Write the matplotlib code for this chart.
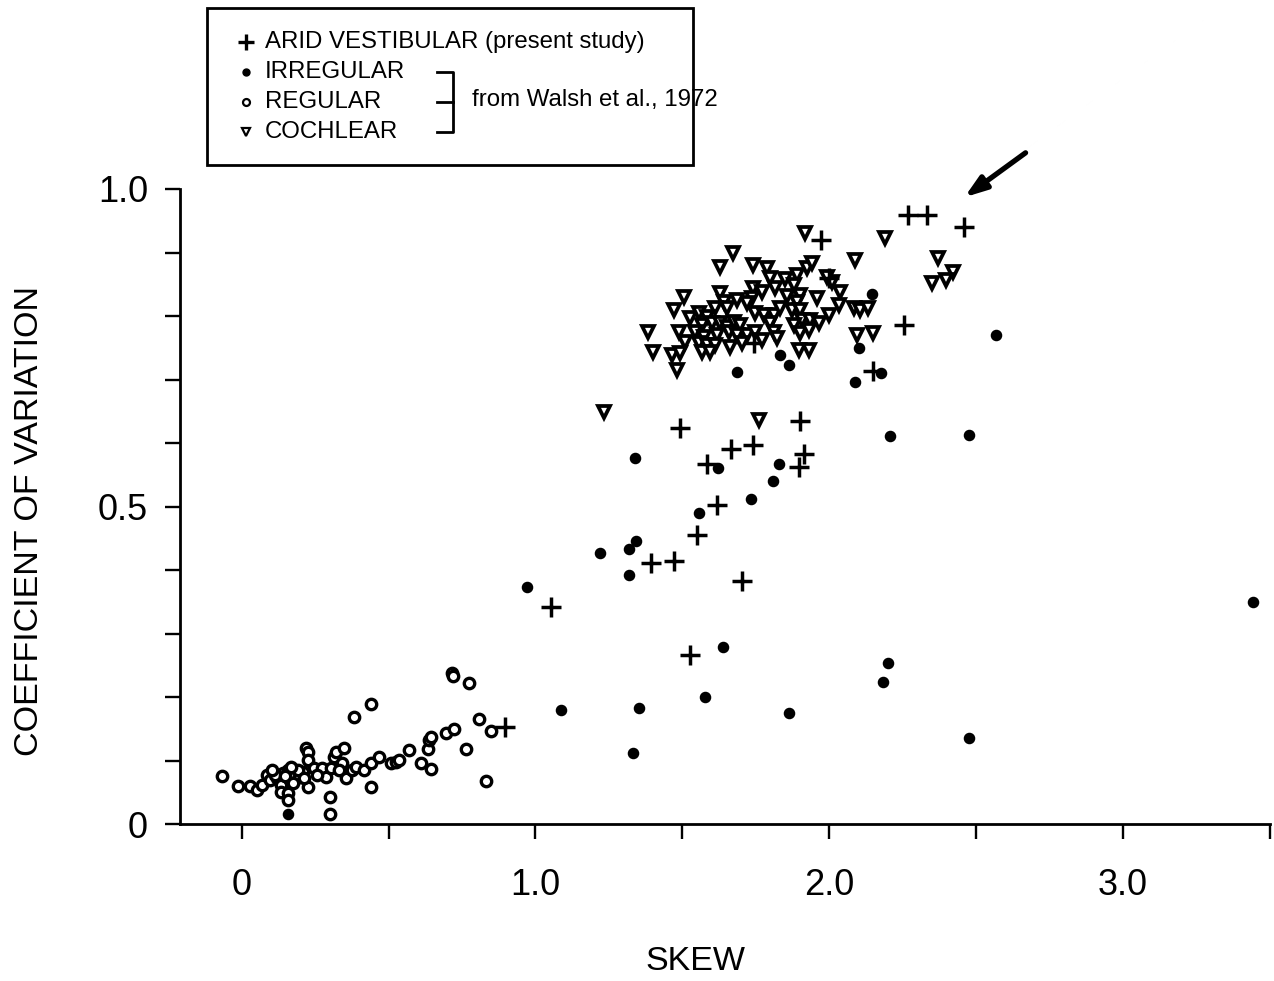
import matplotlib
matplotlib.use('Agg')
import matplotlib.pyplot as plt
from matplotlib.patches import Rectangle

plt.rcParams['font.family'] = ['Liberation Sans', 'DejaVu Sans']

# ── ARID VESTIBULAR (present study) ──
arid_skew = [0.897, 1.053, 1.527, 1.493, 1.703, 1.392, 1.473, 1.551, 1.619, 1.585,
             1.666, 1.740, 1.900, 1.913, 1.896, 1.971, 2.150, 2.255, 2.269, 2.333,
             2.459, 1.744, 1.998]
arid_cv = [0.153, 0.342, 0.266, 0.624, 0.383, 0.411, 0.414, 0.455, 0.502, 0.567,
           0.591, 0.597, 0.635, 0.583, 0.562, 0.920, 0.713, 0.786, 0.959, 0.959,
           0.940, 0.757, 0.860]

# ── IRREGULAR (Walsh et al., 1972) ──
irr_skew = [0.156, 0.972, 1.087, 1.219, 1.317, 1.341, 1.317, 1.338, 1.351, 1.331,
            1.558, 1.622, 1.578, 1.639, 1.734, 1.808, 1.829, 1.863, 2.184, 2.201,
            2.205, 2.475, 2.475, 2.567, 3.441, 2.089, 2.147, 2.100, 2.177, 1.686,
            1.863, 1.832]
irr_cv = [0.016, 0.373, 0.180, 0.427, 0.433, 0.446, 0.392, 0.576, 0.183, 0.112,
          0.490, 0.561, 0.200, 0.279, 0.512, 0.540, 0.567, 0.175, 0.224, 0.254,
          0.611, 0.613, 0.135, 0.770, 0.350, 0.696, 0.835, 0.750, 0.710, 0.712,
          0.723, 0.739]

# ── REGULAR (Walsh et al., 1972) ──
reg_skew = [-0.068, -0.014, 0.027, 0.051, 0.068, 0.085, 0.095, 0.119, 0.135, 0.139,
            0.156, 0.163, 0.135, 0.159, 0.156, 0.179, 0.196, 0.207, 0.224, 0.220,
            0.227, 0.224, 0.247, 0.274, 0.288, 0.305, 0.315, 0.322, 0.349, 0.301,
            0.301, 0.342, 0.356, 0.376, 0.389, 0.417, 0.440, 0.467, 0.440, 0.383,
            0.440, 0.508, 0.525, 0.535, 0.569, 0.610, 0.633, 0.637, 0.643, 0.643,
            0.694, 0.721, 0.715, 0.718, 0.772, 0.765, 0.809, 0.850, 0.830, 0.112,
            0.146, 0.173, 0.190, 0.213, 0.257, 0.332, 0.169, 0.102]
reg_cv = [0.076, 0.060, 0.060, 0.054, 0.061, 0.077, 0.069, 0.072, 0.061, 0.080,
          0.085, 0.069, 0.050, 0.049, 0.038, 0.074, 0.074, 0.082, 0.058, 0.120,
          0.113, 0.101, 0.088, 0.088, 0.074, 0.088, 0.106, 0.113, 0.120, 0.043,
          0.016, 0.096, 0.072, 0.085, 0.090, 0.085, 0.096, 0.106, 0.058, 0.169,
          0.189, 0.096, 0.098, 0.101, 0.117, 0.096, 0.118, 0.132, 0.137, 0.087,
          0.143, 0.150, 0.238, 0.233, 0.222, 0.118, 0.165, 0.146, 0.068, 0.077,
          0.076, 0.065, 0.085, 0.072, 0.077, 0.085, 0.090, 0.085]

# ── COCHLEAR (Walsh et al., 1972) ──
coch_skew = [1.673, 1.629, 1.741, 1.788, 1.798, 1.849, 1.890, 1.923, 1.940, 1.917,
             1.815, 1.879, 1.900, 1.890, 1.741, 1.737, 1.720, 1.629, 1.642, 1.653,
             1.612, 1.507, 1.473, 1.527, 1.558, 1.585, 1.568, 1.602, 1.629, 1.653,
             1.676, 1.697, 1.747, 1.778, 1.812, 1.832, 1.798, 1.873, 1.900, 1.907,
             1.934, 1.879, 1.382, 1.490, 1.544, 1.575, 1.619, 1.659, 1.686, 1.720,
             1.747, 1.771, 1.812, 1.822, 1.900, 1.930, 1.510, 1.558, 1.585, 1.612,
             1.663, 1.703, 1.568, 1.595, 1.399, 1.466, 1.493, 1.480, 1.896, 1.930,
             2.188, 2.086, 2.370, 2.421, 2.398, 2.350, 2.035, 2.008, 1.991, 2.083,
             2.103, 2.133, 2.093, 2.150, 1.998, 1.964, 1.957, 2.032, 1.233, 1.761,
             1.686, 1.771, 1.856]
coch_cv = [0.899, 0.877, 0.880, 0.876, 0.860, 0.858, 0.865, 0.876, 0.883, 0.931,
           0.844, 0.849, 0.833, 0.822, 0.844, 0.828, 0.820, 0.836, 0.822, 0.813,
           0.813, 0.830, 0.809, 0.797, 0.805, 0.798, 0.786, 0.789, 0.789, 0.783,
           0.791, 0.786, 0.805, 0.802, 0.802, 0.813, 0.789, 0.809, 0.809, 0.794,
           0.794, 0.786, 0.775, 0.775, 0.775, 0.767, 0.770, 0.775, 0.770, 0.770,
           0.775, 0.762, 0.775, 0.765, 0.773, 0.778, 0.759, 0.757, 0.754, 0.754,
           0.751, 0.757, 0.743, 0.743, 0.743, 0.739, 0.742, 0.715, 0.746, 0.746,
           0.923, 0.888, 0.891, 0.869, 0.857, 0.852, 0.838, 0.854, 0.861, 0.813,
           0.809, 0.813, 0.770, 0.773, 0.802, 0.789, 0.828, 0.817, 0.649, 0.636,
           0.825, 0.838, 0.831]

X_TICKS = [0, 1.0, 2.0, 3.0]
X_TICKLABELS = ['0', '1.0', '2.0', '3.0']
Y_TICKS = [0, 0.5, 1.0]
Y_TICKLABELS = ['0', '0.5', '1.0']

W, H = 1274, 981
fig = plt.figure(figsize=(W / 100, H / 100), dpi=100)
ax = fig.add_axes([180 / W, 157 / H, 1090 / W, 635 / H])

ax.plot(reg_skew, reg_cv, 'o', ms=7.5, mfc='white', mec='black', mew=2.4,
        clip_on=False, zorder=3)
ax.plot(coch_skew, coch_cv, 'v', ms=8.5, mfc='white', mec='black', mew=2.7,
        clip_on=False, zorder=3)
ax.plot(irr_skew, irr_cv, 'o', ms=7.3, color='black', clip_on=False, zorder=4)
ax.plot(arid_skew, arid_cv, '+', ms=14, color='black', mew=2.5,
        clip_on=False, zorder=5)

ax.set_xlim(-0.21, 3.5)
ax.set_ylim(0, 1.0)
for s in ['top', 'right']:
    ax.spines[s].set_visible(False)
for s in ['left', 'bottom']:
    ax.spines[s].set_linewidth(2.0)

ax.set_xticks(X_TICKS)
ax.set_xticklabels(X_TICKLABELS)
ax.set_xticks([0.5, 1.5, 2.5, 3.5], minor=True)
ax.set_yticks(Y_TICKS)
ax.set_yticklabels(Y_TICKLABELS)
ax.set_yticks([0.1, 0.2, 0.3, 0.4, 0.6, 0.7, 0.8, 0.9], minor=True)
ax.tick_params(which='both', direction='out', length=11, width=1.7)
ax.tick_params(axis='x', which='major', labelsize=26, pad=21)
ax.tick_params(axis='y', which='major', labelsize=26, pad=12)

fig.text(30 / W, 1 - 521 / H, 'COEFFICIENT OF VARIATION', rotation=90,
         ha='center', va='center', fontsize=24.5)
fig.text(695 / W, 1 - 962 / H, 'SKEW', ha='center', va='center', fontsize=24.5)

# arrow pointing at the highest arid point
ax.annotate('', xy=(2.46, 0.987), xytext=(2.668, 1.057),
            arrowprops=dict(arrowstyle='-|>,head_length=1.3,head_width=0.45',
                            lw=3.8, color='black', shrinkA=0, shrinkB=0),
            annotation_clip=False)

# legend box drawn in pixel coordinates
lg = fig.add_axes([0, 0, 1, 1], zorder=10)
lg.set_xlim(0, W)
lg.set_ylim(H, 0)
lg.axis('off')
lg.add_patch(Rectangle((207, 8), 486, 157, fill=False, lw=2.0, ec='black'))
rows = [42, 72, 102, 132]
lg.plot(246, rows[0], '+', ms=11, color='black', mew=2.4)
lg.plot(246, rows[1], 'o', ms=5, color='black')
lg.plot(246, rows[2], 'o', ms=5, mfc='white', mec='black', mew=1.6)
lg.plot(246, rows[3], 'v', ms=5.5, mfc='white', mec='black', mew=1.6)
labels = ['ARID VESTIBULAR (present study)', 'IRREGULAR', 'REGULAR', 'COCHLEAR']
for yy, txt in zip(rows, labels):
    lg.text(265, yy, txt, ha='left', va='center', fontsize=17.3)
lg.plot([437, 453, 453, 437], [72, 72, 132, 132], color='black', lw=2.0)
lg.plot([437, 453], [102, 102], color='black', lw=2.0)
lg.text(472, 100, 'from Walsh et al., 1972', ha='left', va='center', fontsize=17.3)

fig.savefig('out.png', dpi=100)
